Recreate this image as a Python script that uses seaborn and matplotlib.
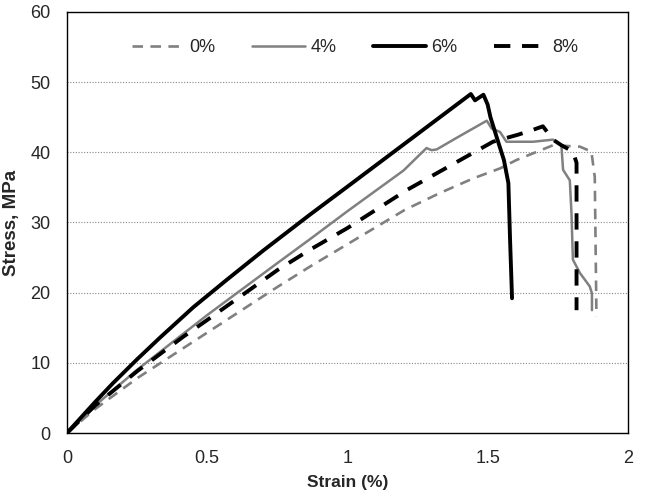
import matplotlib
matplotlib.use("Agg")
import matplotlib.pyplot as plt
import seaborn as sns
import pandas as pd

sns.set_theme(style="white")
plt.rcParams['font.family'] = ['Liberation Sans', 'DejaVu Sans']

strain_0 = [0, 0.1, 0.25, 0.5, 0.75, 0.866, 1.0, 1.205, 1.33, 1.45, 1.544, 1.603, 1.733, 1.829, 1.870, 1.882, 1.888]
stress_0 = [0, 3.4, 7.8, 14.3, 20.8, 23.7, 26.9, 31.8, 34.2, 36.3, 37.7, 38.9, 41.0, 40.8, 40.1, 36.5, 16.6]

strain_4 = [0, 0.1, 0.25, 0.5, 0.75, 0.866, 1.0, 1.2, 1.282, 1.30, 1.318, 1.4, 1.497, 1.514, 1.544, 1.567,
            1.662, 1.733, 1.763, 1.769, 1.793, 1.799, 1.804, 1.829, 1.864, 1.872, 1.872]
stress_4 = [0, 3.9, 9.0, 16.8, 24.2, 27.6, 31.6, 37.4, 40.6, 40.3, 40.4, 42.3, 44.5, 43.4, 42.9, 41.5,
            41.5, 41.8, 41.0, 37.5, 36.0, 31.3, 24.7, 22.8, 20.9, 19.9, 17.5]

strain_6 = [0, 0.1, 0.164, 0.25, 0.332, 0.45, 0.569, 0.7, 0.866, 1.0, 1.25, 1.44, 1.455, 1.485, 1.5, 1.51,
            1.535, 1.558, 1.574, 1.58, 1.587]
stress_6 = [0, 4.4, 7.1, 10.5, 13.6, 17.9, 21.8, 26.0, 31.1, 35.1, 42.6, 48.3, 47.4, 48.2, 46.8, 45.0,
            41.8, 38.9, 35.6, 27.5, 19.2]

strain_8 = [0, 0.1, 0.25, 0.414, 0.5, 0.75, 0.866, 1.0, 1.211, 1.318, 1.425, 1.519, 1.608, 1.662, 1.697,
            1.733, 1.763, 1.804, 1.817, 1.817]
stress_8 = [0, 3.9, 8.8, 13.7, 16.1, 23.2, 26.1, 29.2, 34.6, 37.0, 39.4, 41.5, 42.5, 43.2, 43.7,
            41.8, 41.0, 40.1, 38.5, 17.5]

labels = ["0%", "4%", "6%", "8%"]

fig = plt.figure(figsize=(6.63, 4.96), dpi=100)
ax = fig.add_axes([0.101, 0.127, 0.846, 0.849])

gray = "#808080"
styles = {
    "0%": dict(color=gray, lw=1.9, dashes=(4, 2.8)),
    "4%": dict(color=gray, lw=1.8, dashes=()),
    "6%": dict(color="black", lw=2.8, dashes=()),
    "8%": dict(color="black", lw=2.8, dashes=(4.2, 3.0)),
}
series = [(strain_0, stress_0), (strain_4, stress_4), (strain_6, stress_6), (strain_8, stress_8)]
for lab, (xs, ys) in zip(labels, series):
    df = pd.DataFrame({"Strain": xs, "Stress": ys})
    st = styles[lab]
    sns.lineplot(data=df, x="Strain", y="Stress", sort=False, estimator=None,
                 color=st["color"], linewidth=st["lw"], ax=ax, label=lab)
    l = ax.get_lines()[-1]
    if st["dashes"]:
        l.set_dashes(st["dashes"])

ax.set_xlim(0, 2)
ax.set_ylim(0, 60)
ax.set_xticks([0, 0.5, 1, 1.5, 2])
ax.set_xticklabels(["0", "0.5", "1", "1.5", "2"])
ax.set_yticks([0, 10, 20, 30, 40, 50, 60])
ax.tick_params(axis='x', labelsize=13, length=0, pad=12)
ax.tick_params(axis='y', labelsize=13, length=0, pad=12)
ax.yaxis.grid(True, linestyle=(0, (1, 1.5)), color="#888888", linewidth=0.8)
ax.xaxis.grid(False)
for s in ax.spines.values():
    s.set_color("black")
    s.set_linewidth(1.0)
ax.set_xlabel("Strain (%)", fontsize=12.5, fontweight="bold", labelpad=6)
ax.set_ylabel("Stress, MPa", fontsize=13.5, fontweight="bold", labelpad=7)

leg = ax.legend(loc="center", bbox_to_anchor=(0.513, 0.915), ncol=4, frameon=False,
                fontsize=13, handlelength=2.9, columnspacing=2.05, handletextpad=0.3)

fig.savefig("out.png", dpi=100)
